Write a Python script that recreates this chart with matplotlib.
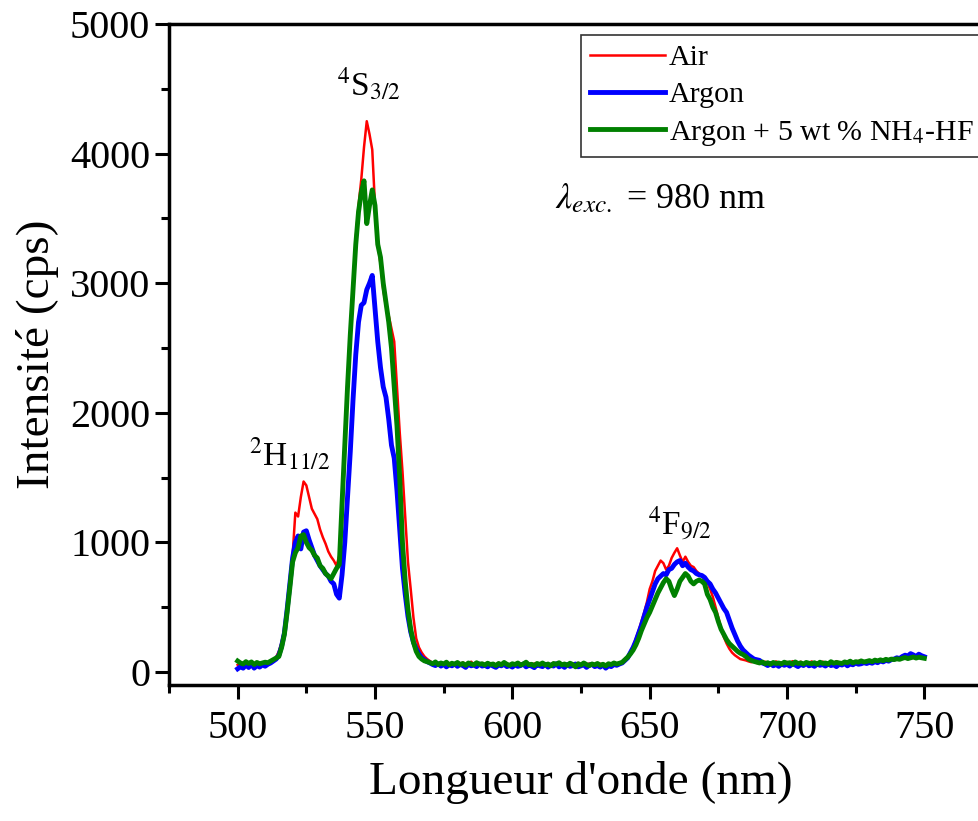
import numpy as np
import matplotlib
matplotlib.use("Agg")
import matplotlib.pyplot as plt
from matplotlib.ticker import MultipleLocator

# Wavelength grid (nm), 1 nm steps from 500 to 750
wavelength = np.arange(500, 751, 1)

air = [
    55, 62, 48, 70, 58, 66, 50, 72, 60, 66,
    70, 68, 82, 95, 115, 160, 230, 330, 480, 680,
    900, 1230, 1200, 1350, 1470, 1440, 1350, 1260, 1220, 1180,
    1100, 1040, 990, 930, 890, 860, 820, 900, 1150, 1700,
    2150, 2600, 2980, 3350, 3600, 3800, 4050, 4250, 4150, 4030,
    3600, 3300, 3150, 2950, 2820, 2750, 2650, 2550, 2200, 1850,
    1550, 1200, 850, 640, 420, 260, 190, 150, 120, 100,
    85, 70, 78, 60, 66, 55, 72, 58, 64, 50,
    68, 60, 74, 56, 62, 80, 58, 66, 52, 70,
    60, 64, 50, 68, 56, 72, 54, 60, 66, 52,
    58, 64, 48, 62, 70, 55, 60, 50, 66, 58,
    62, 54, 68, 50, 60, 72, 56, 64, 50, 62,
    58, 66, 52, 60, 70, 48, 62, 56, 66, 54,
    60, 50, 64, 56, 48, 62, 58, 66, 60, 70,
    80, 100, 120, 160, 200, 260, 320, 390, 460, 540,
    640, 700, 780, 820, 860, 840, 790, 820, 880, 920,
    955, 900, 850, 890, 850, 820, 810, 780, 760, 740,
    720, 690, 640, 580, 500, 420, 340, 270, 220, 180,
    150, 130, 115, 100, 95, 90, 82, 76, 80, 70,
    72, 66, 80, 70, 76, 64, 82, 70, 74, 68,
    78, 66, 84, 72, 70, 80, 64, 76, 70, 82,
    68, 74, 66, 80, 72, 70, 78, 66, 84, 72,
    76, 70, 82, 74, 80, 72, 86, 78, 82, 76,
    84, 80, 88, 82, 90, 86, 94, 90, 100, 96,
    104, 98, 110, 106, 118, 112, 108, 120, 114, 110,
    112,
]

argon = [
    25, 40, 30, 55, 35, 60, 30, 50, 38, 55,
    45, 60, 70, 85, 100, 130, 200, 300, 480, 680,
    880, 1000, 1050, 950, 1080, 1090, 1020, 960, 900, 860,
    820, 790, 760, 740, 700, 680, 600, 570, 750, 1000,
    1350, 1700, 2100, 2450, 2700, 2830, 2850, 2950, 3000, 3060,
    2800, 2550, 2350, 2200, 2120, 1950, 1750, 1650, 1400, 1100,
    800, 600, 430, 310, 230, 180, 140, 110, 95, 80,
    70, 58, 50, 64, 46, 60, 40, 56, 48, 62,
    44, 58, 50, 36, 60, 48, 54, 42, 62, 46,
    52, 40, 58, 46, 36, 54, 48, 60, 42, 50,
    38, 56, 44, 50, 62, 40, 52, 46, 34, 58,
    48, 42, 60, 38, 54, 46, 64, 40, 52, 36,
    58, 44, 50, 62, 40, 48, 56, 36, 52, 60,
    42, 50, 38, 56, 30, 48, 42, 58, 52, 62,
    70, 90, 110, 150, 190, 240, 300, 360, 430, 500,
    560, 620, 680, 720, 740, 760, 750, 790, 800, 830,
    850, 860, 820, 840, 810, 790, 780, 760, 750, 745,
    730, 700, 680, 640, 610, 570, 530, 490, 460, 400,
    340, 290, 240, 200, 170, 150, 130, 115, 100, 95,
    90, 70, 62, 50, 66, 48, 58, 44, 62, 52,
    60, 46, 64, 54, 42, 60, 50, 66, 48, 56,
    44, 62, 52, 58, 46, 64, 50, 56, 42, 60,
    54, 66, 48, 62, 56, 70, 60, 64, 72, 66,
    74, 68, 80, 72, 86, 78, 90, 84, 96, 100,
    110, 104, 120, 130, 124, 142, 132, 120, 138, 126,
    118,
]

argon_nh4hf = [
    85, 70, 62, 80, 66, 78, 58, 74, 64, 70,
    76, 72, 84, 96, 108, 120, 190, 290, 460, 650,
    850, 920, 960, 1050, 1060, 1000, 960, 940, 900, 880,
    820, 800, 760, 740, 720, 760, 800, 830, 1300, 1750,
    2200, 2600, 2950, 3300, 3550, 3700, 3790, 3460, 3600, 3720,
    3600, 3300, 3200, 3000, 2850, 2700, 2500, 2200, 1900, 1500,
    1000, 700, 480, 330, 230, 160, 120, 100, 86, 80,
    72, 64, 78, 58, 70, 62, 76, 56, 68, 60,
    74, 58, 66, 52, 70, 62, 56, 72, 60, 64,
    54, 68, 58, 62, 50, 66, 56, 74, 60, 52,
    64, 58, 70, 54, 62, 76, 56, 60, 50, 66,
    58, 70, 54, 62, 48, 66, 60, 72, 56, 62,
    52, 68, 58, 40, 64, 54, 70, 58, 50, 62,
    56, 66, 52, 60, 48, 64, 58, 70, 62, 68,
    75, 95, 115, 140, 170, 210, 260, 320, 370, 420,
    460, 510, 560, 610, 650, 690, 720, 700, 640, 590,
    640, 700, 730, 760, 740, 700, 680, 700, 710, 700,
    680, 600, 560, 500, 460, 390, 330, 290, 250, 220,
    200, 180, 160, 145, 135, 120, 100, 90, 82, 76,
    70, 78, 64, 72, 60, 74, 66, 70, 62, 76,
    68, 72, 60, 78, 66, 70, 62, 74, 68, 64,
    72, 60, 76, 66, 70, 62, 80, 68, 74, 70,
    66, 78, 72, 84, 70, 80, 76, 86, 78, 82,
    88, 80, 92, 86, 94, 88, 98, 92, 100, 96,
    102, 98, 106, 112, 104, 110, 116, 108, 114, 110,
    106,
]

plt.rcParams['font.family'] = ['Liberation Serif', 'DejaVu Serif']
plt.rcParams['mathtext.fontset'] = 'stix'

fig = plt.figure(figsize=(9.79, 8.21), dpi=100)
# axes run slightly past the right edge, as in the original
ax = fig.add_axes([169 / 979, 136 / 821, 824 / 979, 661 / 821])

ax.plot(wavelength, air, color='#ff0000', linewidth=1.8, label='Air')
ax.plot(wavelength, argon, color='#0000ff', linewidth=3.5, label='Argon')
ax.plot(wavelength, argon_nh4hf, color='#008000', linewidth=3.5,
        label='Argon + 5 wt % NH$_4$-HF')

ax.set_xlim(475, 775)
ax.set_ylim(-100, 5000)
ax.xaxis.set_major_locator(MultipleLocator(50))
ax.xaxis.set_minor_locator(MultipleLocator(25))
ax.yaxis.set_major_locator(MultipleLocator(1000))
ax.yaxis.set_minor_locator(MultipleLocator(500))
ax.tick_params(which='major', direction='out', length=10, width=2.2, labelsize=29)
ax.tick_params(which='minor', direction='out', length=6, width=2.2)
ax.tick_params(axis='x', pad=8)
for s in ax.spines.values():
    s.set_linewidth(2.5)

ax.set_xlabel("Longueur d'onde (nm)", fontsize=34, labelpad=10)
ax.set_ylabel("Intensité (cps)", fontsize=34, labelpad=8)

# band labels
ax.text(548, 4530, r'$^{4}$S$_{3/2}$', fontsize=24, ha='center', va='center')
ax.text(519, 1680, r'$^{2}$H$_{11/2}$', fontsize=24, ha='center', va='center')
ax.text(661, 1140, r'$^{4}$F$_{9/2}$', fontsize=24, ha='center', va='center')
ax.text(615.5, 3650, r'$\lambda_{exc.}$ = 980 nm', fontsize=26, ha='left', va='center')

leg = ax.legend(loc='upper left', bbox_to_anchor=(0.5, 0.983), fontsize=21.5,
                frameon=True, fancybox=False, borderaxespad=0, borderpad=0.3,
                handlelength=2.5, handletextpad=0.15, labelspacing=0.35)
leg.get_frame().set_edgecolor('black')
leg.get_frame().set_linewidth(1.2)

fig.savefig('out.png', dpi=100)
